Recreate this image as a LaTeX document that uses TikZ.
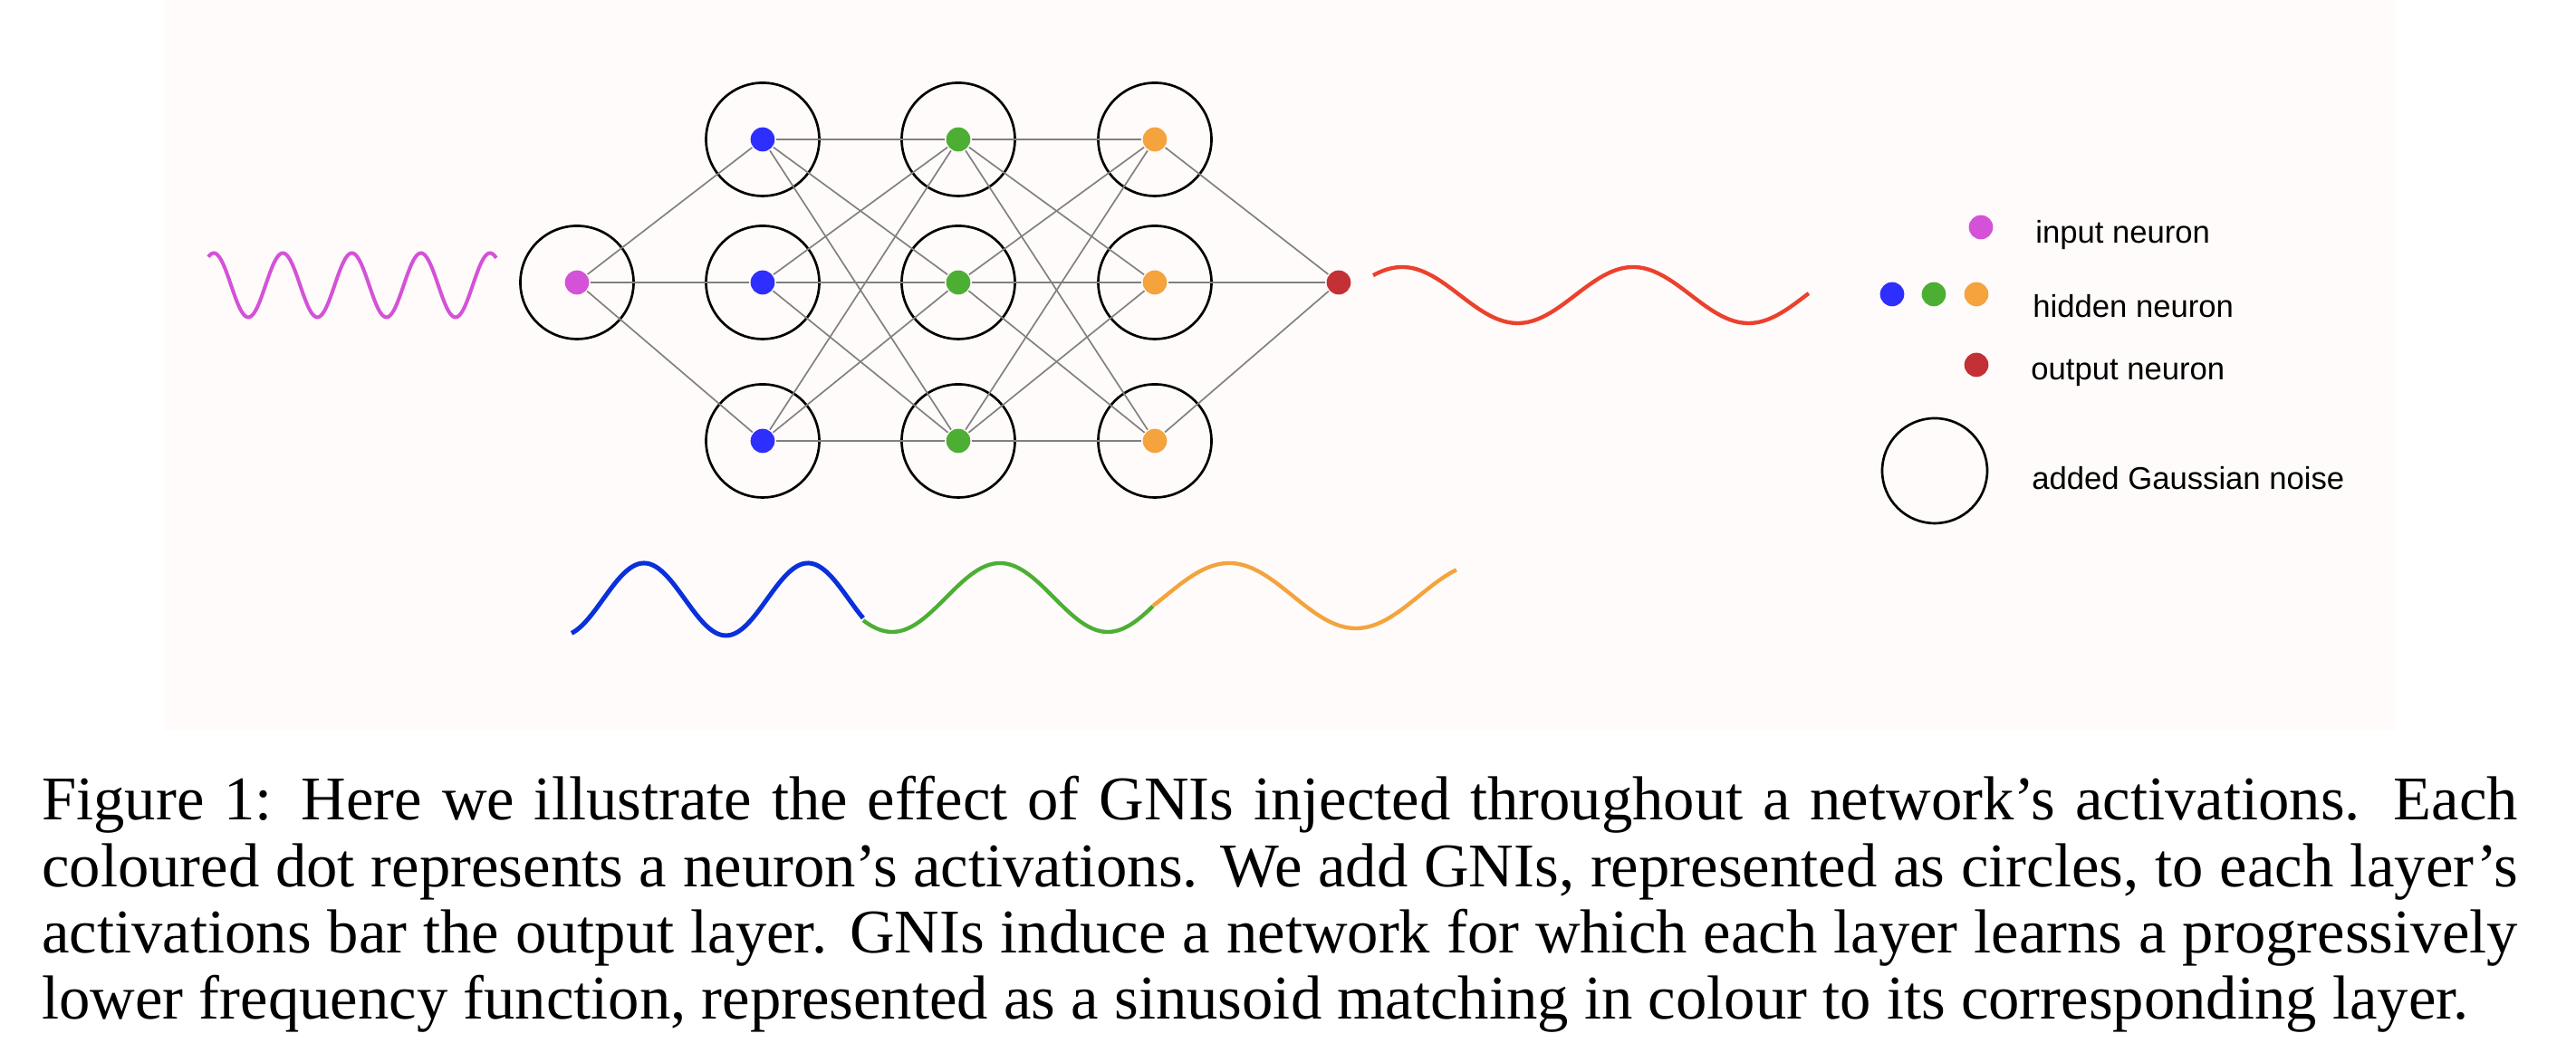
\documentclass[tikz,border=0pt]{standalone}
\usepackage{xcolor}
\usepackage{fontspec}
\setmainfont{Liberation Serif}
\newfontfamily\legendfont{Liberation Sans}
\usepackage{tikz}
\definecolor{bgpink}{RGB}{254,251,250}
\definecolor{inpink}{RGB}{212,82,216}
\definecolor{hidblue}{RGB}{46,46,255}
\definecolor{hidgreen}{RGB}{76,175,52}
\definecolor{hidorange}{RGB}{244,163,61}
\definecolor{outred}{RGB}{195,48,53}
\definecolor{wavered}{RGB}{235,65,45}
\definecolor{waveblue}{RGB}{10,48,220}
\newcommand{\gniwave}[7]{% #1 = style, #2 = x from, #3 = x to, #4 = centre, #5 = amplitude, #6 = period, #7 = crest
  \draw[#1] plot[domain=#2:#3, samples=150, smooth]
        (\x, {#4 + (#5)*cos(360*(\x-(#7))/(#6))});
}

\begin{document}
\begin{tikzpicture}[x=15pt, y=15pt,
    noise/.style={circle, draw=black, line width=0.4pt, minimum size=18.75pt, inner sep=0pt},
    neuron/.style={circle, minimum size=4pt, inner sep=0pt},
    link/.style={gray, line width=0.25pt},
    legend/.style={anchor=west, inner sep=0pt, font=\legendfont\fontsize{5.2}{6}\selectfont}]
    \useasboundingbox (0,0) rectangle (28.44,11.73);
    \fill[bgpink] (1.81,3.67) rectangle (26.45,11.73);
    % network
    \node[noise] (ginp) at (6.37,8.61) {};
    \node[neuron, fill=inpink] (inp) at (6.37,8.61) {};
    \foreach \l/\lx/\col in {1/8.42/hidblue, 2/10.58/hidgreen, 3/12.75/hidorange} {
      \foreach \r/\ry in {1/10.19, 2/8.61, 3/6.86} {
        \node[noise] (g\l\r) at (\lx,\ry) {};
        \node[neuron, fill=\col] (h\l\r) at (\lx,\ry) {};
      }
    }
    \node[neuron, fill=outred] (out) at (14.78,8.61) {};
    \foreach \r in {1,2,3} \draw[link] (inp) -- (h1\r);
    \foreach \a in {1,2,3} \foreach \b in {1,2,3} {
      \draw[link] (h1\a) -- (h2\b);
      \draw[link] (h2\a) -- (h3\b);
    }
    \foreach \r in {1,2,3} \draw[link] (h3\r) -- (out);
    % sinusoids
    \gniwave{inpink, line width=0.6pt}{2.30}{5.48}{8.58}{0.355}{0.7625}{2.36}
    \gniwave{wavered, line width=0.65pt}{15.16}{19.97}{8.47}{0.31}{2.55}{15.48}
    \gniwave{waveblue, line width=0.75pt}{6.31}{9.53}{5.11}{0.40}{1.81}{7.11}
    \gniwave{hidgreen, line width=0.65pt}{9.53}{12.73}{5.13}{0.38}{2.38}{11.04}
    \gniwave{hidorange, line width=0.65pt}{12.73}{16.08}{5.15}{0.36}{2.80}{13.57}
    % legend
    \node[neuron, fill=inpink] (kin) at (21.87,9.22) {};
    \node[legend] (tin) at (22.46,9.13) {input neuron};
    \node[neuron, fill=hidblue] (khA) at (20.89,8.48) {};
    \node[neuron, fill=hidgreen] (khB) at (21.35,8.48) {};
    \node[neuron, fill=hidorange] (khC) at (21.82,8.48) {};
    \node[legend] (thid) at (22.43,8.35) {hidden neuron};
    \node[neuron, fill=outred] (kout) at (21.82,7.70) {};
    \node[legend] (tout) at (22.41,7.61) {output neuron};
    \node[noise, minimum size=17.4pt] (kgn) at (21.36,6.53) {};
    \node[legend] (tgn) at (22.42,6.45) {added Gaussian noise};
    % caption
    \node[anchor=base west, inner sep=0pt, text width=410pt, align=justify,
          font=\fontsize{10.3}{11}\selectfont] (cap) at (0.45,2.67)
      {Figure 1: Here we illustrate the effect of GNIs injected throughout a network’s activations. Each\linebreak
       coloured dot represents a neuron’s activations. We add GNIs, represented as circles, to each layer’s\linebreak
       activations bar the output layer. GNIs induce a network for which each layer learns a progressively\linebreak
       lower frequency function, represented as a sinusoid matching in colour to its corresponding layer.};
  \end{tikzpicture}
\end{document}
